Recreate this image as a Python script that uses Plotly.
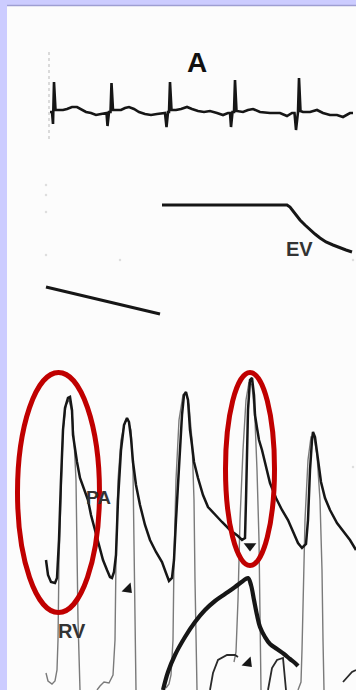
import plotly.graph_objects as go

# ---------------- data (in image coordinates) ----------------
ecg_x = [50, 52, 53, 54, 55.5, 58, 63, 67, 72, 77, 81, 86, 91, 96, 101, 105, 106.5, 107.5, 109, 110.5, 111.5, 113,
         117, 121, 125, 129, 134, 139, 145, 151, 157, 162, 165, 166.5, 168, 169, 170, 171.5, 176, 181, 187, 192,
         198, 204, 210, 217, 223, 228, 230, 231, 232.5, 234, 235, 236.5, 243, 248, 253, 260, 270, 280, 287, 292,
         294.5, 296, 297.5, 298, 299, 300.5, 303, 310, 317, 323, 330, 337, 343, 350, 353]
ecg_y = [112, 112, 124, 82, 110, 110, 110, 109, 107, 107, 109, 112, 113, 115, 114, 113, 113, 126, 112, 112, 83, 110,
         110, 110, 108, 107, 109, 112, 114, 115, 114, 113, 113, 127, 112, 112, 82, 110, 110, 109, 107, 109,
         111, 112, 111, 113, 115, 113, 113, 127, 112, 112, 80, 111, 112, 110, 109, 112, 113, 113, 116, 113,
         113, 130, 112, 112, 78, 111, 112, 112, 110, 113, 115, 115, 117, 113, 113]

ev_x = [162, 287, 290, 295, 300, 305, 310, 315, 320, 326, 333, 340, 346, 352]
ev_y = [205, 205, 207, 214, 220, 225, 230, 234, 238, 242, 245, 248, 250, 252]

slope_x = [46, 100, 160]
slope_y = [287, 300, 314]

marker_x = [49, 49]
marker_y = [52, 140]

pa_x = [46, 48, 51, 55, 57, 59, 61, 63, 65, 68, 70, 72, 73, 75, 77, 80, 84, 88, 91, 95, 99, 103, 107, 110, 112,
        114, 116, 118, 121, 124, 127, 129, 131, 133, 136, 140, 145, 150, 156, 162, 166, 169, 172, 174, 176, 179,
        182, 184, 186, 188, 190, 192, 194, 198, 203, 208, 215, 222, 230, 238, 242, 245, 246, 247, 248, 250, 252,
        254, 255, 257, 259, 262, 266, 270, 276, 282, 288, 293, 298, 302, 306, 308, 310, 312, 313, 315, 318, 321,
        325, 330, 337, 344, 350, 356]
pa_y = [560, 575, 582, 583, 578, 540, 480, 430, 408, 398, 397, 410, 435, 450, 462, 478, 490, 500, 515, 530, 545,
        560, 570, 577, 578, 572, 555, 500, 450, 425, 418, 422, 438, 462, 485, 505, 525, 540, 552, 562, 573, 581,
        578, 560, 520, 460, 415, 395, 392, 400, 430, 445, 462, 478, 495, 507, 515, 522, 530, 536, 540, 538, 500,
        450, 410, 380, 378, 395, 415, 428, 440, 450, 468, 483, 498, 510, 520, 532, 543, 548, 544, 520, 470, 440,
        432, 437, 460, 482, 498, 510, 523, 532, 540, 550]

rv_x = [46, 48, 52, 55, 57, 58, 59, 61, 63, 66, 69, 72, 74, 76, 77, 78, 80, None,
        97, 100, 104, 109, 113, 115, 116, 118, 121, 125, 128, 131, 133, 134, 135, 136, None,
        166, 169, 171, 173, 174, 176, 179, 183, 186, 189, 192, 194, 195, 196, 197, None,
        234, 236, 238, 240, 243, 246, 249, 252, 255, 257, 259, 260, 261, None,
        298, 301, 302, 303, 305, 308, 311, 314, 317, 320, 322, 323, 324]
rv_y = [673, 681, 684, 681, 670, 640, 560, 480, 430, 405, 400, 412, 440, 480, 540, 620, 690, None,
        690, 686, 682, 683, 675, 640, 560, 480, 440, 422, 420, 430, 470, 540, 620, 690, None,
        688, 684, 675, 640, 560, 480, 420, 395, 393, 405, 440, 500, 580, 650, 690, None,
        662, 652, 600, 520, 450, 400, 382, 385, 420, 470, 540, 620, 690, None,
        690, 682, 650, 600, 520, 460, 437, 437, 455, 500, 570, 640, 690]

flow_x = [163, 168, 175, 185, 195, 205, 215, 225, 235, 243, 248, 251, 254, 257, 260, 265, 270, 277, 284, 290, 295, 298]
flow_y = [690, 672, 655, 637, 622, 610, 601, 594, 587, 581, 578, 585, 600, 615, 627, 637, 644, 649, 654, 659, 663, 666]

low_x = [210, 213, 218, 227, 235, 238, None, 268, 272, 277, 283, 286, None, 343, 348, 352, 356]
low_y = [690, 673, 660, 655, 655, 657, None, 690, 668, 660, 658, 690, None, 682, 676, 672, 670]

mark_x = [128, 250, 248]
mark_y = [589, 546, 663]
mark_sym = ["triangle-down", "triangle-down", "triangle-down"]
mark_ang = [-45, 0, -45]

ring_x0 = [17.5, 225.5]
ring_x1 = [99.5, 274.5]
ring_y0 = [372.5, 372.5]
ring_y1 = [612.5, 565.5]

labels = ["A", "EV", "PA", "RV"]
label_x = [197, 299, 98, 72]
label_y = [62, 249, 497, 631]
label_size = [28, 20, 19, 20]

dots_x = [46, 46, 46, 46, 120, 353, 353]
dots_y = [185, 195, 212, 255, 260, 260, 467]

# ---------------- figure ----------------
INK = "#161616"
fig = go.Figure()

fig.add_trace(go.Scatter(x=marker_x, y=marker_y, mode="lines",
                         line=dict(color="#c4c4c4", width=1.2, dash="dot"), hoverinfo="skip"))
fig.add_trace(go.Scatter(x=dots_x, y=dots_y, mode="markers",
                         marker=dict(color="#dedede", size=2.5), hoverinfo="skip"))
fig.add_trace(go.Scatter(x=ecg_x, y=ecg_y, mode="lines",
                         line=dict(color=INK, width=2.6), hoverinfo="skip"))
fig.add_trace(go.Scatter(x=ev_x, y=ev_y, mode="lines",
                         line=dict(color=INK, width=3), hoverinfo="skip"))
fig.add_trace(go.Scatter(x=slope_x, y=slope_y, mode="lines",
                         line=dict(color=INK, width=3), hoverinfo="skip"))
fig.add_trace(go.Scatter(x=rv_x, y=rv_y, mode="lines", connectgaps=False,
                         line=dict(color="#7a7a7a", width=1.4), hoverinfo="skip"))
fig.add_trace(go.Scatter(x=pa_x, y=pa_y, mode="lines",
                         line=dict(color=INK, width=2.5), hoverinfo="skip"))
fig.add_trace(go.Scatter(x=low_x, y=low_y, mode="lines", connectgaps=False,
                         line=dict(color="#2a2a2a", width=1.8), hoverinfo="skip"))
fig.add_trace(go.Scatter(x=flow_x, y=flow_y, mode="lines",
                         line=dict(color=INK, width=4.2, shape="spline"), hoverinfo="skip"))
fig.add_trace(go.Scatter(x=mark_x, y=mark_y, mode="markers",
                         marker=dict(color=INK, size=11, symbol=mark_sym, angle=mark_ang),
                         hoverinfo="skip"))

shapes = [
    dict(type="rect", xref="x", yref="y", x0=7, x1=356, y0=6, y1=690,
         fillcolor="#fcfcfc", line=dict(width=0), layer="below"),
    dict(type="line", xref="x", yref="y", x0=7, x1=356, y0=5.5, y1=5.5,
         line=dict(color="#9e9ed2", width=1.5), layer="below"),
]
for a, b, c, d in zip(ring_x0, ring_x1, ring_y0, ring_y1):
    shapes.append(dict(type="circle", xref="x", yref="y", x0=a, x1=b, y0=c, y1=d,
                       line=dict(color="#c00000", width=5), layer="above"))

annotations = []
for t, x, y, s in zip(labels, label_x, label_y, label_size):
    annotations.append(dict(text=f"<b>{t}</b>", x=x, y=y, xref="x", yref="y", showarrow=False,
                            font=dict(family="Liberation Sans, Arial", size=s,
                                      color="#111" if t == "A" else "#333")))

fig.update_layout(
    width=356, height=690, margin=dict(l=0, r=0, t=0, b=0),
    paper_bgcolor="#ccccff", plot_bgcolor="#ccccff",
    showlegend=False, shapes=shapes, annotations=annotations,
    xaxis=dict(range=[0, 356], visible=False, fixedrange=True),
    yaxis=dict(range=[690, 0], visible=False, fixedrange=True),
)

fig.write_html("out.html")
